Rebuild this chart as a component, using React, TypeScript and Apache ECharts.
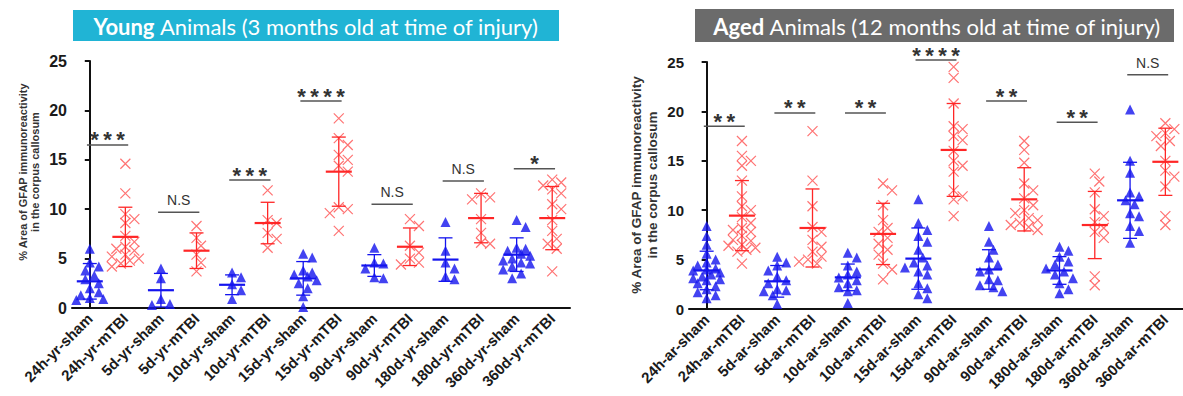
import React, { useEffect, useRef } from "react";
import * as echarts from "echarts";

// ---------- categories / tick labels ----------
const youngCategories = [
  "24h-yr-sham", "24h-yr-mTBI", "5d-yr-sham", "5d-yr-mTBI", "10d-yr-sham", "10d-yr-mTBI",
  "15d-yr-sham", "15d-yr-mTBI", "90d-yr-sham", "90d-yr-mTBI", "180d-yr-sham", "180d-yr-mTBI",
  "360d-yr-sham", "360d-yr-mTBI",
];
const agedCategories = [
  "24h-ar-sham", "24h-ar-mTBI", "5d-ar-sham", "5d-ar-mTBI", "10d-ar-sham", "10d-ar-mTBI",
  "15d-ar-sham", "15d-ar-mTBI", "90d-ar-sham", "90d-ar-mTBI", "180d-ar-sham", "180d-ar-mTBI",
  "360d-ar-sham", "360d-ar-mTBI",
];
const yMin = 0;
const yMax = 25;
const yInterval = 5;

// ---------- young animals: individual values ----------
const yr24hSham = [6.0, 4.6, 4.2, 3.8, 3.3, 2.9, 2.5, 2.0, 1.6, 1.3, 1.0, 0.8, 0.9];
const yr24hTBI = [14.6, 11.6, 9.5, 9.0, 8.6, 7.3, 6.7, 6.2, 5.8, 5.4, 5.0, 4.8, 4.5, 4.2, 6.0, 5.2];
const yr5dSham = [4.0, 3.0, 0.9, 0.4, 0.3];
const yr5dTBI = [8.3, 7.1, 6.3, 5.4, 4.6, 3.7];
const yr10dSham = [3.6, 3.1, 2.4, 1.8, 0.9];
const yr10dTBI = [11.9, 8.9, 8.6, 7.6, 7.0, 6.1];
const yr15dSham = [5.5, 5.1, 3.8, 3.4, 3.2, 2.8, 2.5, 2.0, 1.2, 0.1, 3.6];
const yr15dTBI = [19.2, 17.2, 16.5, 15.5, 15.0, 14.4, 13.8, 10.2, 9.6, 10.0, 7.8];
const yr90dSham = [6.1, 4.6, 4.5, 4.0, 3.1, 3.0];
const yr90dTBI = [9.0, 8.3, 6.3, 5.6, 5.0, 4.6, 4.4];
const yr180dSham = [8.7, 5.8, 4.6, 4.0, 3.2, 2.9];
const yr180dTBI = [11.6, 11.2, 11.0, 9.0, 7.6, 6.6, 6.5];
const yr360dSham = [8.9, 8.2, 6.0, 5.8, 5.5, 5.3, 5.0, 4.8, 4.5, 4.2, 3.9, 3.5, 3.0, 6.1, 4.6];
const yr360dTBI = [13.0, 12.7, 12.4, 12.0, 11.6, 10.5, 10.0, 8.9, 7.8, 7.0, 6.5, 6.0, 3.7];

// ---------- aged animals: individual values ----------
const ar24hSham = [8.4, 7.4, 6.5, 5.6, 5.0, 4.7, 4.4, 4.1, 3.9, 3.7, 3.5, 3.3, 3.1, 2.9, 2.6, 2.3, 2.0, 1.7, 1.4, 1.1, 3.0, 4.0];
const ar24hTBI = [17.0, 15.5, 15.0, 14.5, 13.0, 10.0, 11.4, 8.0, 10.4, 7.0, 9.3, 8.7, 8.2, 7.8, 7.4, 6.9, 6.4, 6.0, 6.2, 4.6, 6.5, 5.8];
const ar5dSham = [5.3, 4.7, 4.4, 3.9, 3.3, 2.9, 2.6, 2.0, 1.8, 1.4, 0.5, 1.9];
const ar5dTBI = [18.0, 13.0, 10.4, 8.3, 7.8, 7.0, 6.3, 5.8, 5.3, 5.0, 4.6, 4.8];
const ar10dSham = [5.7, 5.2, 4.4, 3.8, 3.5, 3.2, 2.9, 2.6, 2.2, 1.9, 1.8, 0.6];
const ar10dTBI = [12.7, 12.0, 10.5, 9.0, 8.2, 7.8, 7.2, 6.6, 6.0, 5.5, 4.6, 4.0, 3.0];
const ar15dSham = [11.1, 8.7, 8.0, 7.4, 6.8, 6.0, 5.2, 4.7, 4.2, 3.8, 2.6, 2.1, 1.5, 1.1, 4.4, 3.5];
const ar15dTBI = [24.5, 23.4, 20.8, 17.5, 18.5, 18.2, 17.1, 16.0, 15.0, 13.9, 12.0, 11.4, 11.1, 9.4, 14.5];
const ar90dSham = [8.4, 6.8, 6.0, 5.2, 4.5, 4.0, 3.8, 3.0, 2.9, 2.4, 2.2, 1.8];
const ar90dTBI = [17.0, 16.1, 14.8, 12.7, 12.0, 11.2, 10.5, 10.0, 9.7, 9.2, 9.0, 8.7, 8.5, 8.3, 8.0];
const ar180dSham = [6.3, 5.9, 5.3, 4.8, 4.5, 4.1, 3.8, 3.5, 3.1, 2.6, 2.0, 1.6];
const ar180dTBI = [13.7, 12.9, 11.8, 10.1, 9.4, 8.8, 8.2, 7.8, 7.2, 3.3, 2.4];
const ar360dSham = [20.2, 15.0, 13.8, 11.8, 11.4, 11.0, 10.6, 9.7, 9.4, 8.4, 7.9, 6.7];
const ar360dTBI = [18.8, 18.2, 17.8, 17.5, 17.0, 16.5, 15.0, 14.0, 13.4, 12.4, 9.4, 8.5];

// ---------- group means and SD (as drawn) ----------
const youngMeans = [2.7, 7.2, 1.8, 5.8, 2.35, 8.6, 3.0, 13.8, 4.3, 6.2, 4.9, 9.1, 5.4, 9.1];
const youngSD = [1.8, 3.0, 1.7, 1.8, 1.0, 2.1, 1.7, 3.5, 1.1, 1.9, 2.2, 2.5, 1.7, 3.2];
const agedMeans = [3.9, 9.45, 2.8, 8.2, 3.2, 7.6, 5.1, 16.1, 4.0, 11.1, 3.9, 8.5, 11.0, 14.9];
const agedSD = [1.95, 3.55, 1.6, 3.95, 1.35, 3.1, 3.1, 4.7, 2.0, 3.2, 1.4, 3.4, 3.85, 3.4];

// ---------- significance brackets ----------
const youngSigLabels = ["***", "N.S", "***", "****", "N.S", "N.S", "*"];
const youngSigLevels = [16.5, 9.7, 12.95, 20.95, 10.5, 12.85, 14.1];
const agedSigLabels = ["**", "**", "**", "****", "**", "**", "N.S"];
const agedSigLevels = [18.5, 19.85, 19.85, 25.2, 21.05, 18.9, 23.7];

const youngShamCols = [yr24hSham, yr5dSham, yr10dSham, yr15dSham, yr90dSham, yr180dSham, yr360dSham];
const youngTBICols = [yr24hTBI, yr5dTBI, yr10dTBI, yr15dTBI, yr90dTBI, yr180dTBI, yr360dTBI];
const agedShamCols = [ar24hSham, ar5dSham, ar10dSham, ar15dSham, ar90dSham, ar180dSham, ar360dSham];
const agedTBICols = [ar24hTBI, ar5dTBI, ar10dTBI, ar15dTBI, ar90dTBI, ar180dTBI, ar360dTBI];

const BLUE = "#1414ee";
const RED_PT = "#ff5a5a";
const RED = "#ff2626";
const FONT = '"Liberation Sans", Arial, sans-serif';

// GraphPad-like horizontal spreading of overlapping points (layout only)
function swarmColumn(vals: number[], center: number, pxPerCat: number, pxPerUnit: number): number[][] {
  const D = 8.5, STEP = 4.5, MAXOFF = 15;
  const placed: [number, number][] = [];
  const order = vals.map((_, i) => i).sort((a, b) => vals[b] - vals[a]);
  const res: number[][] = [];
  for (const i of order) {
    const v = vals[i];
    const y = v * pxPerUnit;
    let best = 0, bestScore = -1;
    for (let k = 0; ; k++) {
      const off = k === 0 ? 0 : (k % 2 ? 1 : -1) * Math.ceil(k / 2) * STEP;
      if (Math.abs(off) > MAXOFF) break;
      let minD = Infinity;
      for (const [px, py] of placed) minD = Math.min(minD, Math.hypot(px - off, py - y));
      if (minD >= D) { best = off; bestScore = minD; break; }
      if (minD > bestScore) { bestScore = minD; best = off; }
    }
    placed.push([best, y]);
    res.push([center + best / pxPerCat, v]);
  }
  return res;
}

function swarmAll(cols: number[][], parity: number, pxPerCat: number, pxPerUnit: number) {
  const out: number[][] = [];
  cols.forEach((vals, k) => out.push(...swarmColumn(vals, 2 * k + parity, pxPerCat, pxPerUnit)));
  return out;
}

const G0 = { left: 72, top: 61, width: 498, height: 247 };
const G1 = { left: 689, top: 62, width: 496, height: 247 };

function meanSdSeries(xIdx: number, yIdx: number, means: number[], sds: number[]) {
  return {
    type: "custom",
    xAxisIndex: xIdx,
    yAxisIndex: yIdx,
    clip: false,
    silent: true,
    z: 5,
    encode: { x: 0, y: 1 },
    data: means.map((m, i) => [i, m, sds[i]]),
    renderItem: (_p: any, api: any) => {
      const i = api.value(0), m = api.value(1), s = api.value(2);
      const c = api.coord([i, m]);
      const t = api.coord([i, m + s]);
      const b = api.coord([i, m - s]);
      const col = i % 2 === 0 ? BLUE : RED;
      const mw = 13, cw = 7;
      return {
        type: "group",
        children: [
          { type: "line", shape: { x1: c[0], y1: t[1], x2: c[0], y2: b[1] }, style: { stroke: col, lineWidth: 1.3 } },
          { type: "line", shape: { x1: c[0] - cw, y1: t[1], x2: c[0] + cw, y2: t[1] }, style: { stroke: col, lineWidth: 1.3 } },
          { type: "line", shape: { x1: c[0] - cw, y1: b[1], x2: c[0] + cw, y2: b[1] }, style: { stroke: col, lineWidth: 1.3 } },
          { type: "line", shape: { x1: c[0] - mw, y1: c[1], x2: c[0] + mw, y2: c[1] }, style: { stroke: col, lineWidth: 2.2 } },
        ],
      };
    },
  };
}

// significance bracket: line spanning sham..mTBI with label above
function sigSeries(xIdx: number, yIdx: number, labels: string[], levels: number[]) {
  return {
    type: "custom",
    xAxisIndex: xIdx,
    yAxisIndex: yIdx,
    clip: false,
    silent: true,
    z: 4,
    encode: { x: 0, y: 1 },
    data: levels.map((v, p) => [2 * p + 0.5, v, p]),
    renderItem: (_p: any, api: any) => {
      const p = api.value(2), v = api.value(1);
      const l = api.coord([2 * p - 0.08, v]);
      const r = api.coord([2 * p + 1.08, v]);
      const label = labels[p];
      const star = label.indexOf("*") >= 0;
      const text = star ? label.split("").join("\u2009") : label;
      return {
        type: "group",
        children: [
          { type: "line", shape: { x1: l[0], y1: l[1], x2: r[0], y2: r[1] }, style: { stroke: "#555", lineWidth: 1.5 } },
          {
            type: "text",
            x: (l[0] + r[0]) / 2,
            y: star ? l[1] - 5 : l[1] - 12,
            style: {
              text,
              fill: "#333",
              fontSize: star ? 22 : 14,
              fontWeight: star ? "bold" : "normal",
              fontFamily: FONT,
              textAlign: "center",
              textVerticalAlign: "middle",
            },
          },
        ],
      };
    },
  };
}

function xCat(gridIndex: number, data: string[]) {
  return {
    gridIndex,
    type: "category",
    data,
    boundaryGap: true,
    axisLine: { lineStyle: { color: "#111", width: 2 } },
    axisTick: { alignWithLabel: true, length: 5, lineStyle: { color: "#111", width: 2 } },
    axisLabel: {
      interval: 0, rotate: 45, fontSize: 15, fontWeight: "bold", color: "#1a1a1a",
      fontFamily: FONT, margin: 8,
    },
  };
}
function xVal(gridIndex: number) {
  return { gridIndex, type: "value", min: -0.5, max: 13.5, show: false };
}
function yAx(gridIndex: number, fontSize: number) {
  return {
    gridIndex,
    type: "value",
    min: yMin,
    max: yMax,
    interval: yInterval,
    splitLine: { show: false },
    axisLine: { show: true, lineStyle: { color: "#111", width: 2 } },
    axisTick: { show: true, length: 5, lineStyle: { color: "#111", width: 2 } },
    axisLabel: { fontSize, fontWeight: "bold", color: "#1a1a1a", fontFamily: FONT, margin: 5 },
  };
}

const X_SYMBOL = "path://M0,0L10,10M10,0L0,10";
const BANNER_FONT = "Lato, sans-serif";

export default function App() {
  const ref = useRef<HTMLDivElement>(null);
  useEffect(() => {
    if (!ref.current) return;
    const chart = echarts.init(ref.current, undefined, { renderer: "svg" });
    const ppc0 = G0.width / 14, ppc1 = G1.width / 14;
    const ppu0 = G0.height / (yMax - yMin), ppu1 = G1.height / (yMax - yMin);
    const scatterBlue = (xi: number, yi: number, data: number[][]) => ({
      type: "scatter", xAxisIndex: xi, yAxisIndex: yi, data, symbol: "triangle", symbolSize: 10,
      itemStyle: { color: BLUE }, z: 3, silent: true,
    });
    const scatterRed = (xi: number, yi: number, data: number[][]) => ({
      type: "scatter", xAxisIndex: xi, yAxisIndex: yi, data, symbol: X_SYMBOL, symbolSize: 10,
      itemStyle: { color: "rgba(0,0,0,0)", borderColor: RED_PT, borderWidth: 1.2, opacity: 0.85 },
      z: 3, silent: true,
    });
    const banner = (cx: number, bold: string, rest: string) => ({
      type: "text", x: cx, y: 26,
      style: {
        text: `{b|${bold}}${rest}`,
        fill: "#ffffff", fontSize: 22, fontFamily: BANNER_FONT,
        textAlign: "center", textVerticalAlign: "middle",
        rich: { b: { fontWeight: "bold", fontSize: 22, fill: "#ffffff", fontFamily: BANNER_FONT } },
      },
    });
    const option: any = {
      animation: false,
      textStyle: { fontFamily: FONT },
      grid: [
        { ...G0, containLabel: false },
        { ...G1, containLabel: false },
      ],
      xAxis: [xCat(0, youngCategories), xVal(0), xCat(1, agedCategories), xVal(1)],
      yAxis: [yAx(0, 16), yAx(1, 15)],
      series: [
        scatterBlue(1, 0, swarmAll(youngShamCols, 0, ppc0, ppu0)),
        scatterRed(1, 0, swarmAll(youngTBICols, 1, ppc0, ppu0)),
        meanSdSeries(1, 0, youngMeans, youngSD),
        sigSeries(1, 0, youngSigLabels, youngSigLevels),
        scatterBlue(3, 1, swarmAll(agedShamCols, 0, ppc1, ppu1)),
        scatterRed(3, 1, swarmAll(agedTBICols, 1, ppc1, ppu1)),
        meanSdSeries(3, 1, agedMeans, agedSD),
        sigSeries(3, 1, agedSigLabels, agedSigLevels),
      ],
      graphic: [
        { type: "rect", shape: { x: 73, y: 10, width: 486, height: 31 }, style: { fill: "#20b4d5" } },
        banner(316, "Young", " Animals (3 months old at time of injury)"),
        { type: "rect", shape: { x: 695, y: 9, width: 479, height: 33 }, style: { fill: "#6b6b6b" } },
        banner(937, "Aged", " Animals (12 months old at time of injury)"),
        {
          type: "text", x: 29, y: 172, rotation: Math.PI / 2,
          style: {
            text: "% Area of GFAP immunoreactivity\nin the corpus callosum",
            fill: "#333", fontSize: 11, fontWeight: "bold", fontFamily: FONT, lineHeight: 12,
            textAlign: "center", textVerticalAlign: "middle",
          },
        },
        {
          type: "text", x: 644, y: 185, rotation: Math.PI / 2,
          style: {
            text: "% Area of GFAP immunoreactivity\nin the corpus callosum",
            fill: "#333", fontSize: 13.5, fontWeight: "bold", fontFamily: FONT, lineHeight: 16,
            textAlign: "center", textVerticalAlign: "middle",
          },
        },
      ],
    };
    chart.setOption(option);
    return () => chart.dispose();
  }, []);
  return (
    <div
      ref={ref}
      style={{ position: "absolute", left: 0, top: 0, width: 1183, height: 396, background: "#fff" }}
    />
  );
}
